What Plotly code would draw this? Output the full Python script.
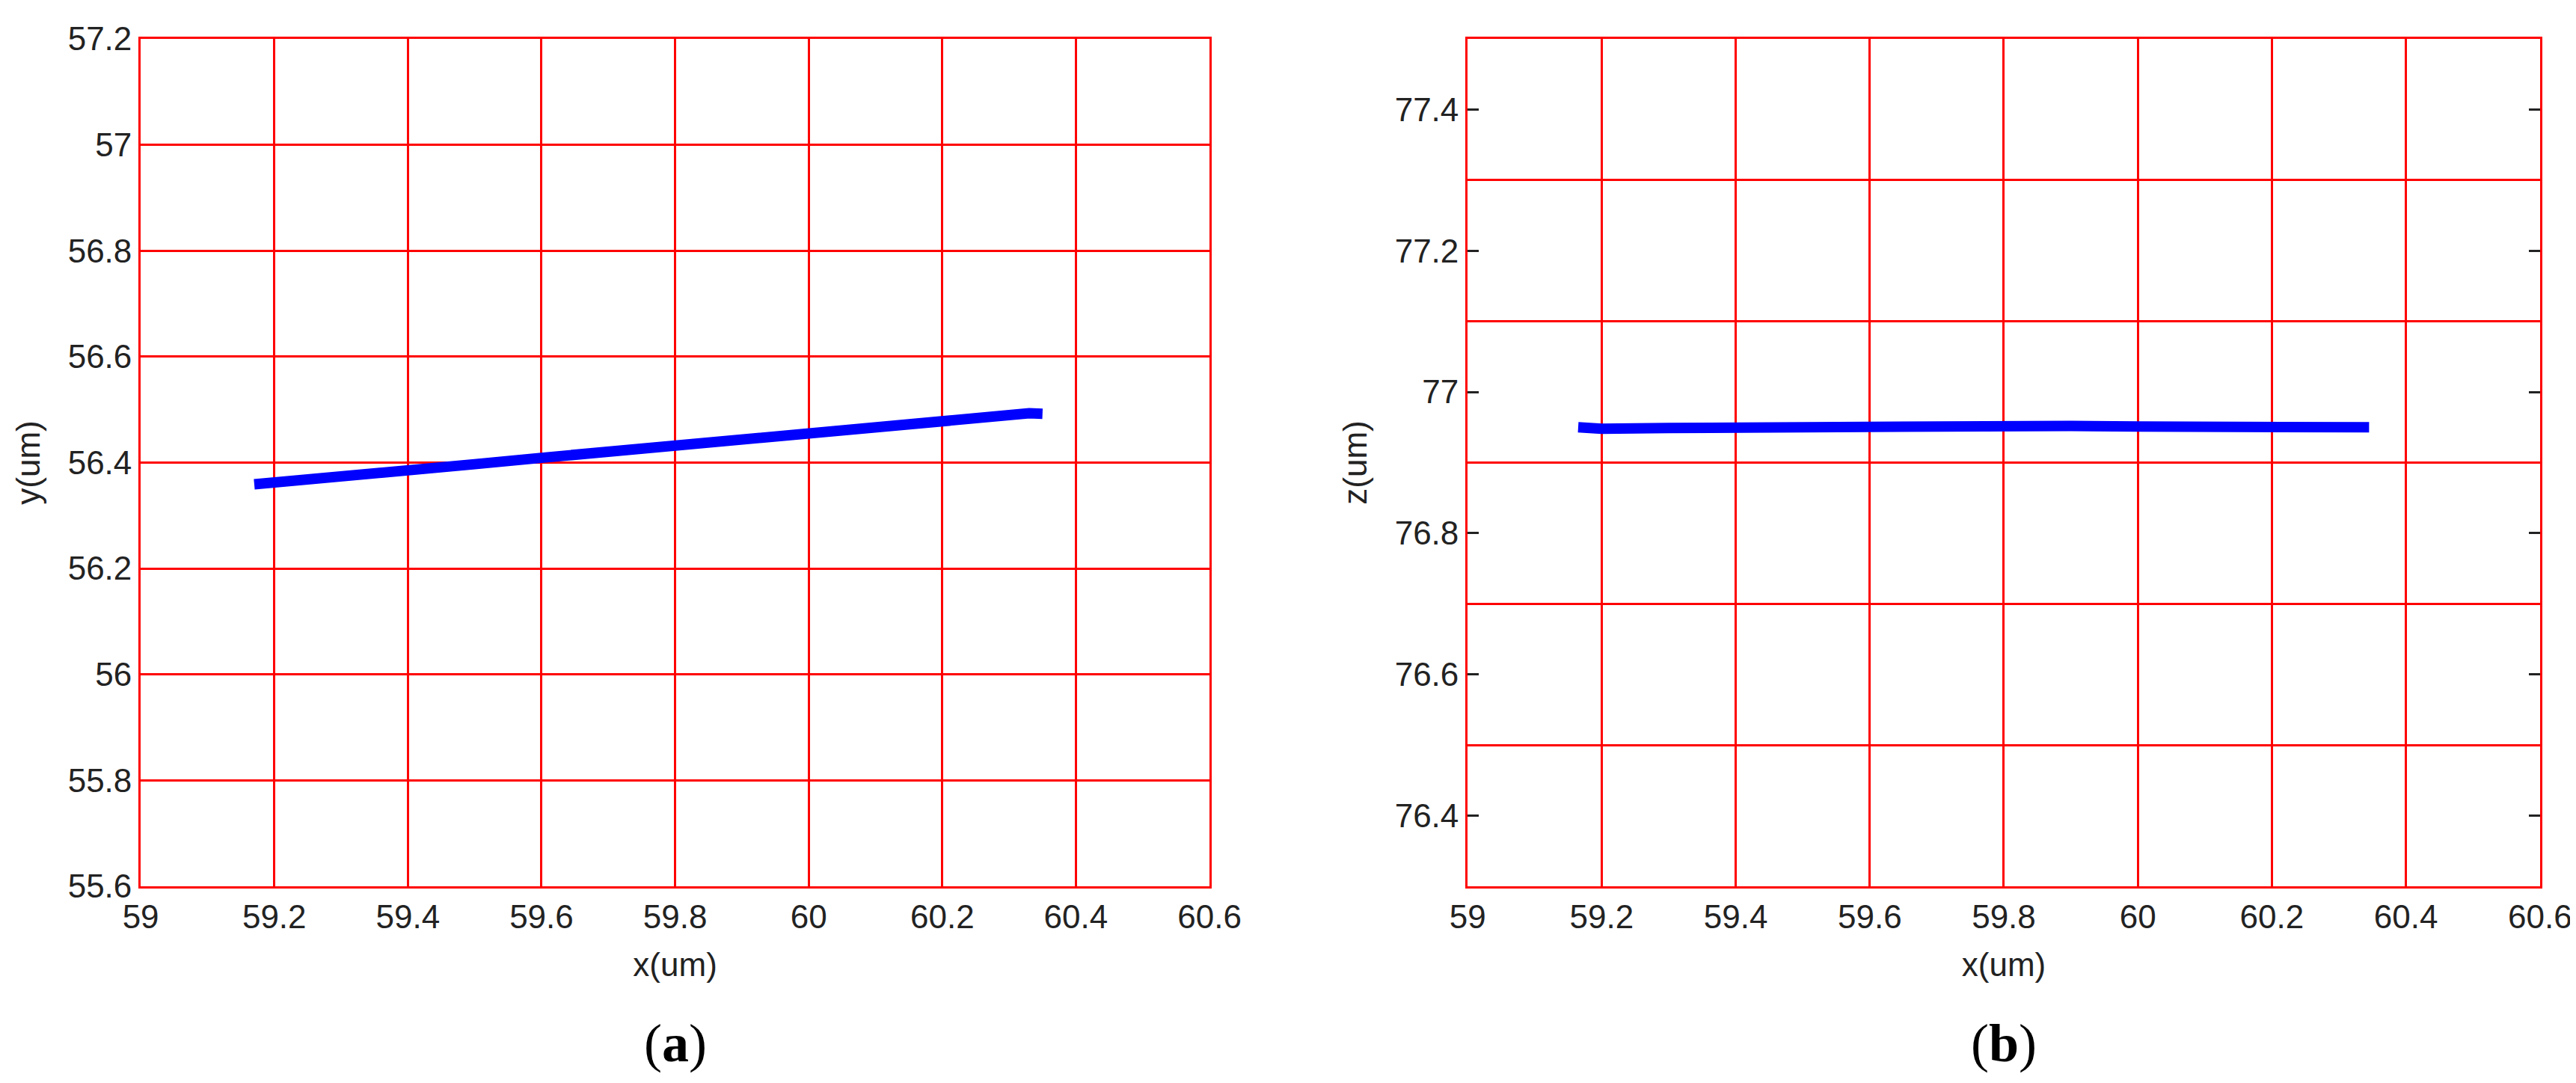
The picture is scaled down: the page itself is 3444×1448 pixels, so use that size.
import plotly.graph_objects as go
from plotly.subplots import make_subplots

# dati (traiettoria in um)
x_a = [59.17, 59.2, 59.3, 59.4, 59.5, 59.6, 59.7, 59.8, 59.9, 60.0, 60.1, 60.2, 60.25, 60.3, 60.33, 60.35]
y_a = [56.359, 56.362, 56.374, 56.386, 56.397, 56.409, 56.421, 56.434, 56.446, 56.458, 56.470, 56.482,
       56.488, 56.492, 56.493, 56.492]

x_b = [59.165, 59.2, 59.3, 59.4, 59.5, 59.6, 59.7, 59.8, 59.9, 60.0, 60.1, 60.2, 60.3, 60.345]
z_b = [76.950, 76.948, 76.949, 76.950, 76.951, 76.951, 76.951, 76.952, 76.952, 76.951, 76.951, 76.950,
       76.951, 76.950]

x_ticks = [59, 59.2, 59.4, 59.6, 59.8, 60, 60.2, 60.4, 60.6]
y_ticks_a = [55.6, 55.8, 56, 56.2, 56.4, 56.6, 56.8, 57, 57.2]
z_ticks_b = [76.4, 76.6, 76.8, 77, 77.2, 77.4]
z_grid_b = [76.5, 76.7, 76.9, 77.1, 77.3]

RED = '#ff0000'
FONT = 'Liberation Sans, Arial, sans-serif'
TXT = '#222222'

fig = make_subplots(rows=1, cols=2)

fig.add_trace(go.Scatter(x=x_a, y=y_a, mode='lines', line=dict(color='#0000ff', width=14)), row=1, col=1)
fig.add_trace(go.Scatter(x=x_b, y=z_b, mode='lines', line=dict(color='#0000ff', width=14)), row=1, col=2)

asse_x = dict(
    range=[59, 60.6], tickmode='array', tickvals=x_ticks, ticktext=[f'{v:g}' for v in x_ticks],
    showgrid=True, gridcolor=RED, gridwidth=3, zeroline=False, automargin=False,
    showline=True, linecolor=RED, linewidth=3, mirror=True, ticks='',
    tickfont=dict(family=FONT, size=44, color=TXT),
    title=dict(text='x(um)', font=dict(family=FONT, size=44, color=TXT), standoff=26),
)
fig.update_xaxes(**asse_x, domain=[0.0523, 0.4672], row=1, col=1)
fig.update_xaxes(**asse_x, domain=[0.5674, 0.9837], row=1, col=2)

fig.update_yaxes(
    range=[55.6, 57.2], tickmode='array', tickvals=y_ticks_a, ticktext=[f'{v:g}' for v in y_ticks_a],
    showgrid=True, gridcolor=RED, gridwidth=3, zeroline=False, automargin=False,
    showline=True, linecolor=RED, linewidth=3, mirror=True, ticks='',
    tickfont=dict(family=FONT, size=44, color=TXT),
    title=dict(text='y(um)', font=dict(family=FONT, size=44, color=TXT), standoff=24),
    domain=[0.1872, 0.9696], row=1, col=1,
)
fig.update_yaxes(
    range=[76.3, 77.5], tickmode='array', tickvals=z_ticks_b, ticktext=[f'{v:g}' for v in z_ticks_b],
    showgrid=False, zeroline=False, automargin=False,
    showline=True, linecolor=RED, linewidth=3, mirror='ticks',
    ticks='inside', ticklen=15, tickwidth=3, tickcolor=TXT,
    minor=dict(tickmode='array', tickvals=z_grid_b, showgrid=True, gridcolor=RED, gridwidth=3, ticks=''),
    tickfont=dict(family=FONT, size=44, color=TXT),
    title=dict(text='z(um)', font=dict(family=FONT, size=44, color=TXT), standoff=24),
    domain=[0.1872, 0.9696], row=1, col=2,
)

# etichette (a) e (b)
for testo, xc in [('(<b>a</b>)', (0.0523 + 0.4672) / 2), ('(<b>b</b>)', (0.5674 + 0.9837) / 2)]:
    fig.add_annotation(text=testo, x=xc, y=0.042, xref='paper', yref='paper', showarrow=False,
                       xanchor='center', yanchor='middle',
                       font=dict(family='Liberation Serif, Times New Roman, serif', size=72, color='#000000'))

fig.update_layout(
    width=3444, height=1448,
    margin=dict(l=0, r=0, t=0, b=0),
    paper_bgcolor='white', plot_bgcolor='white',
    showlegend=False,
)

fig.write_html("out.html")
